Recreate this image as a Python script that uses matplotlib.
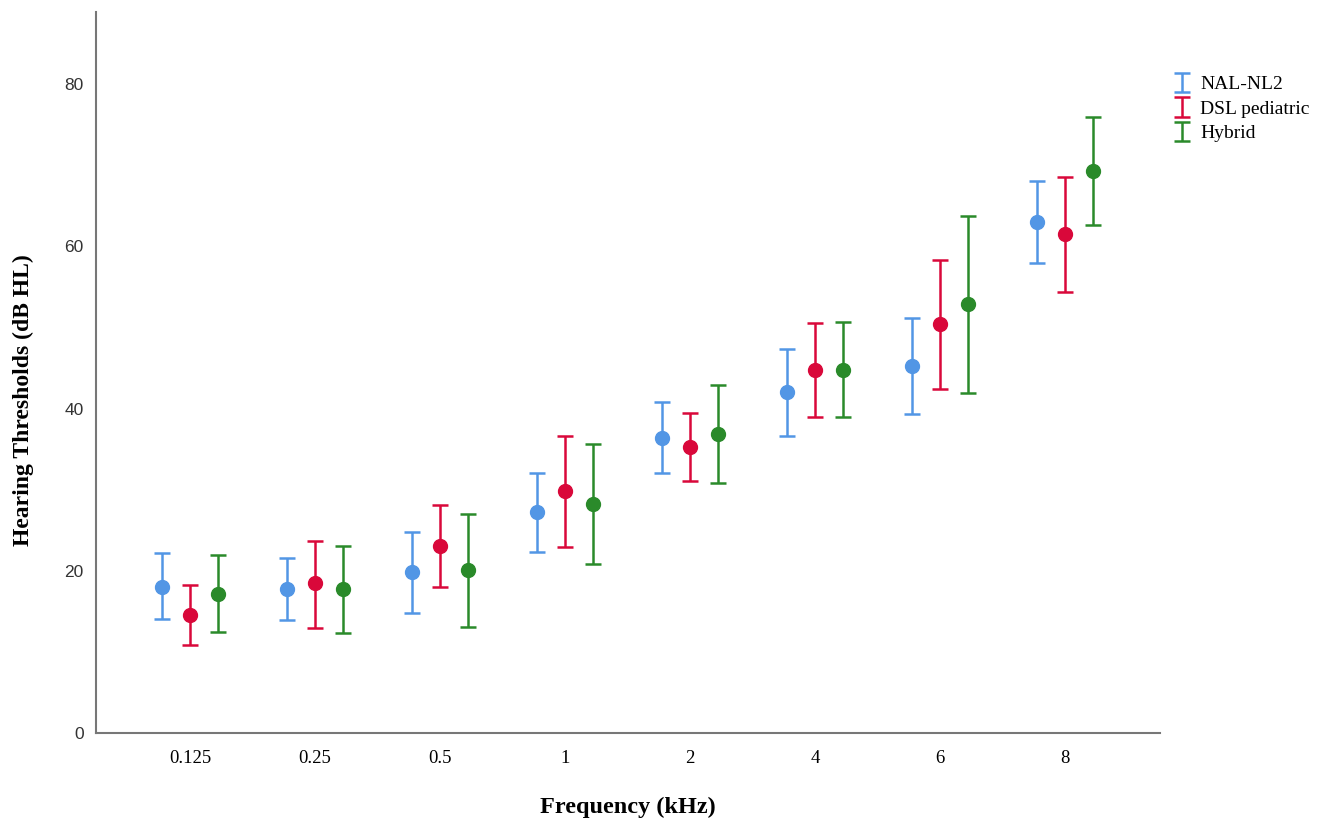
import matplotlib
matplotlib.use("Agg")
import matplotlib.pyplot as plt
import numpy as np

# Data
freqs = ["0.125", "0.25", "0.5", "1", "2", "4", "6", "8"]
series = ["NAL-NL2", "DSL pediatric", "Hybrid"]

nal_mean = [18.0, 17.75, 19.9, 27.2, 36.4, 42.0, 45.2, 63.0]
nal_low = [14.0, 13.9, 14.8, 22.3, 32.0, 36.6, 39.3, 58.0]
nal_high = [22.2, 21.6, 24.8, 32.0, 40.8, 47.4, 51.2, 68.1]

dsl_mean = [14.5, 18.45, 23.1, 29.8, 35.3, 44.8, 50.4, 61.5]
dsl_low = [10.8, 13.0, 18.0, 22.9, 31.1, 39.0, 42.4, 54.4]
dsl_high = [18.2, 23.7, 28.1, 36.6, 39.5, 50.5, 58.3, 68.6]

hyb_mean = [17.1, 17.7, 20.1, 28.2, 36.9, 44.8, 52.9, 69.3]
hyb_low = [12.4, 12.3, 13.1, 20.8, 30.8, 38.9, 41.9, 62.6]
hyb_high = [21.9, 23.1, 27.0, 35.6, 42.9, 50.7, 63.7, 75.9]

colors = ["#5296E5", "#D9083A", "#2A8A2A"]

means = [nal_mean, dsl_mean, hyb_mean]
lows = [nal_low, dsl_low, hyb_low]
highs = [nal_high, dsl_high, hyb_high]
offsets = [-0.224, 0.0, 0.224]

fig = plt.figure(figsize=(13.41, 8.21), dpi=100)
ax = fig.add_axes([0.0716, 0.1072, 0.7935, 0.8782])

x = np.arange(len(freqs))
for name, m, lo, hi, c, off in zip(series, means, lows, highs, colors, offsets):
    m = np.array(m)
    err = [m - np.array(lo), np.array(hi) - m]
    ax.errorbar(x + off, m, yerr=err, fmt="none", ecolor=c, elinewidth=1.8,
                capsize=5.5, capthick=1.8, label=name)
    ax.plot(x + off, m, "o", color=c, markersize=10, zorder=3)

ax.set_xlim(-0.752, 7.76)
ax.set_ylim(0, 88.9)
ax.set_yticks([0, 20, 40, 60, 80])
ax.set_xticks(x)
ax.set_xticklabels(freqs, fontfamily="Liberation Serif", fontsize=13.5)
for t in ax.get_yticklabels():
    t.set_fontfamily("Liberation Sans")
    t.set_fontsize(12.5)
    t.set_color("#333333")
ax.tick_params(length=0)
ax.tick_params(axis="x", pad=12)
ax.tick_params(axis="y", pad=9)

for s in ["top", "right"]:
    ax.spines[s].set_visible(False)
for s in ["left", "bottom"]:
    ax.spines[s].set_color("#777777")
    ax.spines[s].set_linewidth(1.5)

ax.set_xlabel("Frequency (kHz)", fontfamily="Liberation Serif", fontweight="bold",
              fontsize=17.5, labelpad=22)
ax.set_ylabel("Hearing Thresholds (dB HL)", fontfamily="Liberation Serif",
              fontweight="bold", fontsize=17)
ax.yaxis.set_label_coords(-0.058, 0.462)

leg = ax.legend(loc="upper left", bbox_to_anchor=(1.0, 0.936), frameon=False,
                prop={"family": "Liberation Serif", "size": 14},
                handlelength=0.45, handletextpad=0.7, labelspacing=0.35)

fig.savefig("out.png", dpi=100)
